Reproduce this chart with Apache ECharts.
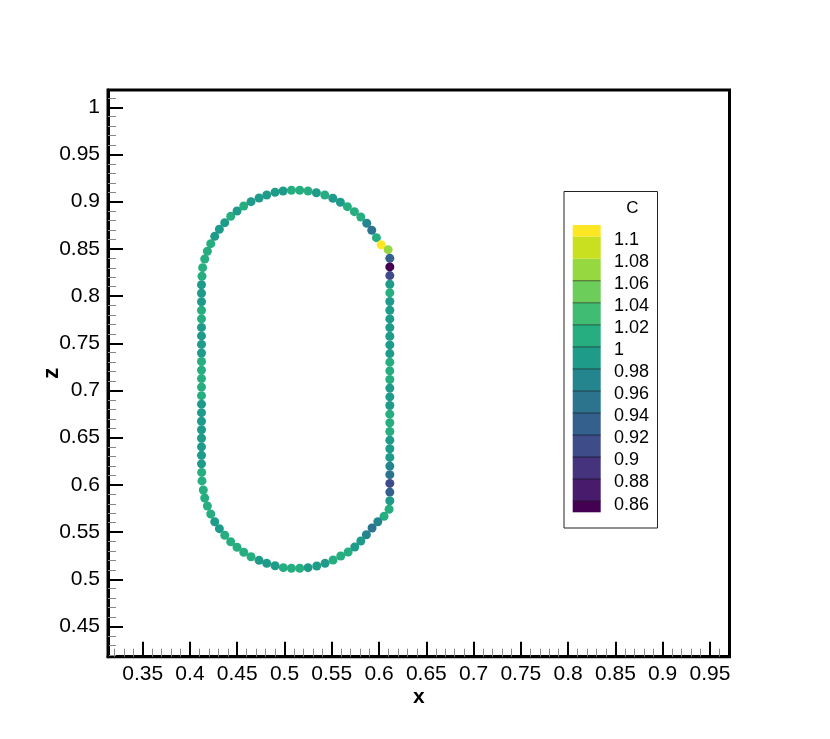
<!DOCTYPE html>
<html>
<head>
<meta charset="utf-8">
<script src="https://cdn.jsdelivr.net/npm/echarts@6/dist/echarts.min.js"></script>
<style>
html,body{margin:0;padding:0;background:#fff;}
#chart{width:830px;height:739px;}
</style>
</head>
<body>
<div id="chart"></div>
<script>
// ---- data ----
const topArcX = [0.4156,0.4184,0.4220,0.4262,0.4311,0.4368,0.4431,0.4498,0.4569,0.4646,0.4731,0.4812,0.4900,0.4985,0.5073,0.5161,0.5249,0.5337,0.5426,0.5511,0.5591,0.5665,0.5739,0.5807,0.5870,0.5923,0.5972,0.6022,0.6096];
const topArcZ = [0.8393,0.8475,0.8555,0.8633,0.8708,0.8778,0.8845,0.8901,0.8954,0.9000,0.9039,0.9071,0.9100,0.9113,0.9121,0.9121,0.9113,0.9095,0.9071,0.9036,0.8994,0.8947,0.8894,0.8838,0.8771,0.8697,0.8619,0.8544,0.8492];
const topArcC = [1.01,1.01,1.01,0.99,0.99,0.99,1.01,0.99,1.01,0.99,0.99,0.99,0.99,0.99,1.01,1.01,1.01,0.99,1.01,0.99,0.99,1.01,1.01,1.01,0.97,0.95,1.01,1.11,1.07];

const rightX = [0.6114,0.6114,0.6114,0.6114,0.6114,0.6114,0.6114,0.6114,0.6114,0.6114,0.6114,0.6114,0.6114,0.6114,0.6114,0.6114,0.6114,0.6114,0.6114,0.6114,0.6114,0.6114,0.6114,0.6114,0.6114,0.6114,0.6114,0.6114,0.6114];
const rightZ = [0.8400,0.8309,0.8217,0.8125,0.8034,0.7942,0.7850,0.7758,0.7666,0.7575,0.7483,0.7391,0.7300,0.7208,0.7116,0.7025,0.6933,0.6841,0.6749,0.6658,0.6566,0.6474,0.6383,0.6291,0.6199,0.6108,0.6016,0.5924,0.5832];
const rightC = [0.93,0.85,0.91,0.99,1.01,0.99,0.99,0.99,0.99,0.99,0.99,0.99,1.01,1.01,1.01,0.99,0.99,0.99,1.01,1.01,1.01,0.99,0.99,0.99,0.97,0.95,0.91,0.93,0.99];

const bottomArcX = [0.6106,0.6053,0.5987,0.5926,0.5866,0.5807,0.5743,0.5673,0.5595,0.5514,0.5429,0.5341,0.5249,0.5161,0.5073,0.4988,0.4900,0.4812,0.4731,0.4646,0.4569,0.4498,0.4431,0.4368,0.4311,0.4262,0.4220,0.4184,0.4156,0.4141];
const bottomArcZ = [0.5742,0.5667,0.5610,0.5543,0.5472,0.5406,0.5342,0.5289,0.5247,0.5204,0.5169,0.5141,0.5123,0.5117,0.5117,0.5123,0.5144,0.5169,0.5201,0.5239,0.5286,0.5339,0.5398,0.5466,0.5536,0.5610,0.5692,0.5776,0.5861,0.5946];
const bottomArcC = [1.01,1.01,0.97,0.95,0.97,0.99,0.99,1.01,1.01,1.01,0.99,0.99,0.99,1.01,1.01,1.01,0.99,0.99,0.99,1.01,1.01,1.01,1.01,1.01,0.99,0.99,1.01,1.01,1.01,1.01];

const leftX = [0.4134,0.4127,0.4122,0.4122,0.4122,0.4122,0.4122,0.4122,0.4122,0.4122,0.4122,0.4122,0.4122,0.4122,0.4122,0.4122,0.4122,0.4122,0.4122,0.4122,0.4122,0.4122,0.4122,0.4122,0.4124,0.4127];
const leftZ = [0.8301,0.8210,0.8120,0.8030,0.7940,0.7849,0.7759,0.7668,0.7578,0.7488,0.7397,0.7307,0.7216,0.7126,0.7036,0.6945,0.6855,0.6765,0.6674,0.6584,0.6494,0.6403,0.6313,0.6223,0.6132,0.6042];
const leftC = [1.01,1.01,0.99,0.99,0.99,1.01,1.01,0.99,0.99,0.99,0.99,1.01,1.01,1.01,1.01,1.01,0.99,0.99,0.99,0.99,0.99,0.99,0.99,0.99,1.01,1.01];

// contour levels and band colours (bottom band to top band)
const levels = [0.86,0.88,0.90,0.92,0.94,0.96,0.98,1.00,1.02,1.04,1.06,1.08,1.10];
const levelLabels = ['0.86','0.88','0.9','0.92','0.94','0.96','0.98','1','1.02','1.04','1.06','1.08','1.1'];
const bandColors = ['#440154','#481b6d','#46337e','#3e4c8a','#34608d','#2c738e','#25858e','#1f9b8a','#27ae80','#40bd72','#6ccd5a','#95d840','#c8e020','#fde725'];

const xTickLabels = ['0.35','0.4','0.45','0.5','0.55','0.6','0.65','0.7','0.75','0.8','0.85','0.9','0.95'];
const yTickLabels = ['0.45','0.5','0.55','0.6','0.65','0.7','0.75','0.8','0.85','0.9','0.95','1'];

// ---- build ----
function pts(xs, zs, cs){ return xs.map((x,i)=>[x, zs[i], cs[i]]); }
const data = [].concat(pts(topArcX,topArcZ,topArcC), pts(rightX,rightZ,rightC),
                       pts(bottomArcX,bottomArcZ,bottomArcC), pts(leftX,leftZ,leftC));

const pieces = [];
pieces.push({lt: levels[0], color: bandColors[0]});
for (let i = 0; i < levels.length - 1; i++) pieces.push({gte: levels[i], lt: levels[i+1], color: bandColors[i+1]});
pieces.push({gte: levels[levels.length-1], color: bandColors[bandColors.length-1]});

const FONT = "'Liberation Sans', Arial, Helvetica, sans-serif";
const X0 = 0.3133, X1 = 0.9707, Y0 = 0.418, Y1 = 1.0183;

function fmt(list){ return function(v){ const s = String(+(+v).toFixed(2)); return list.indexOf(s) >= 0 ? s : ''; }; }

// legend graphic
const LX = 564, LY = 191.5, LW = 93.5, LH = 336.5;
const bandLeft = 572.7, bandW = 28, bandH = 22.03, topLevelY = 236.7;
function levelY(v){ return topLevelY + (levels[levels.length-1] - v) / 0.02 * bandH; }
const g = [];
g.push({type:'rect', shape:{x:LX, y:LY, width:LW, height:LH}, style:{fill:'#fff', stroke:'#222', lineWidth:1}, z:10});
g.push({type:'text', x:632.5, y:208, style:{text:'C', font:'17px ' + FONT, fill:'#000', textAlign:'center', textVerticalAlign:'middle'}, z:11});
g.push({type:'rect', shape:{x:bandLeft, y:225, width:bandW, height:levelY(levels[levels.length-1]) - 225}, style:{fill:bandColors[bandColors.length-1]}, z:11});
for (let i = 0; i < levels.length - 1; i++) {
  const yTop = levelY(levels[i+1]), yBot = levelY(levels[i]);
  g.push({type:'rect', shape:{x:bandLeft, y:yTop, width:bandW, height:yBot - yTop}, style:{fill:bandColors[i+1]}, z:11});
}
g.push({type:'rect', shape:{x:bandLeft, y:levelY(levels[0]), width:bandW, height:512.3 - levelY(levels[0])}, style:{fill:bandColors[0]}, z:11});
for (let i = 0; i < levels.length; i++) {
  const y = levelY(levels[i]);
  if (levels[i] <= 1.061) g.push({type:'line', shape:{x1:bandLeft, y1:y, x2:bandLeft+bandW, y2:y}, style:{stroke:'rgba(0,0,0,0.55)', lineWidth:1}, z:12});
  g.push({type:'text', x:614, y:y + 3.5, style:{text:levelLabels[i], font:'18px ' + FONT, fill:'#000', textAlign:'left', textVerticalAlign:'middle'}, z:12});
}

const chart = echarts.init(document.getElementById('chart'), null, {renderer:'canvas'});
chart.setOption({
  animation: false,
  backgroundColor: '#fff',
  grid: {left:108, top:90, width:621.5, height:566.7, show:true, borderColor:'#000', borderWidth:3, containLabel:false},
  xAxis: [
    {type:'value', min:X0, max:X1, splitNumber:66, position:'bottom',
     axisLine:{show:false}, splitLine:{show:false}, axisLabel:{show:false},
     axisTick:{show:true, inside:true, length:8, lineStyle:{color:'#888', width:1}}},
    {type:'value', min:X0, max:X1, splitNumber:13, position:'bottom',
     name:'x', nameLocation:'middle', nameGap:30, nameMoveOverlap:false,
     nameTextStyle:{fontFamily:FONT, fontSize:21, fontWeight:'bold', color:'#000'},
     axisLine:{show:true, lineStyle:{color:'#000', width:3}}, splitLine:{show:false},
     axisTick:{show:true, inside:true, length:15, lineStyle:{color:'#000', width:2}},
     axisLabel:{show:true, margin:7, formatter:fmt(xTickLabels), fontFamily:FONT, fontSize:21, color:'#000'}}
  ],
  yAxis: [
    {type:'value', min:Y0, max:Y1, splitNumber:60, position:'left',
     axisLine:{show:false}, splitLine:{show:false}, axisLabel:{show:false},
     axisTick:{show:true, inside:true, length:8, lineStyle:{color:'#888', width:1}}},
    {type:'value', min:Y0, max:Y1, splitNumber:12, position:'left',
     name:'z', nameLocation:'middle', nameGap:45, nameRotate:90, nameMoveOverlap:false,
     nameTextStyle:{fontFamily:FONT, fontSize:22, fontWeight:'bold', color:'#000'},
     axisLine:{show:true, lineStyle:{color:'#000', width:3}}, splitLine:{show:false},
     axisTick:{show:true, inside:true, length:15, lineStyle:{color:'#000', width:2}},
     axisLabel:{show:true, margin:8, formatter:fmt(yTickLabels), fontFamily:FONT, fontSize:21, color:'#000'}}
  ],
  visualMap: {type:'piecewise', show:false, dimension:2, seriesIndex:0, pieces: pieces},
  series: [{
    type:'scatter', xAxisIndex:0, yAxisIndex:0, data:data, symbol:'circle', symbolSize:9,
    itemStyle:{opacity:1}
  }],
  graphic: g
});
</script>
</body>
</html>
